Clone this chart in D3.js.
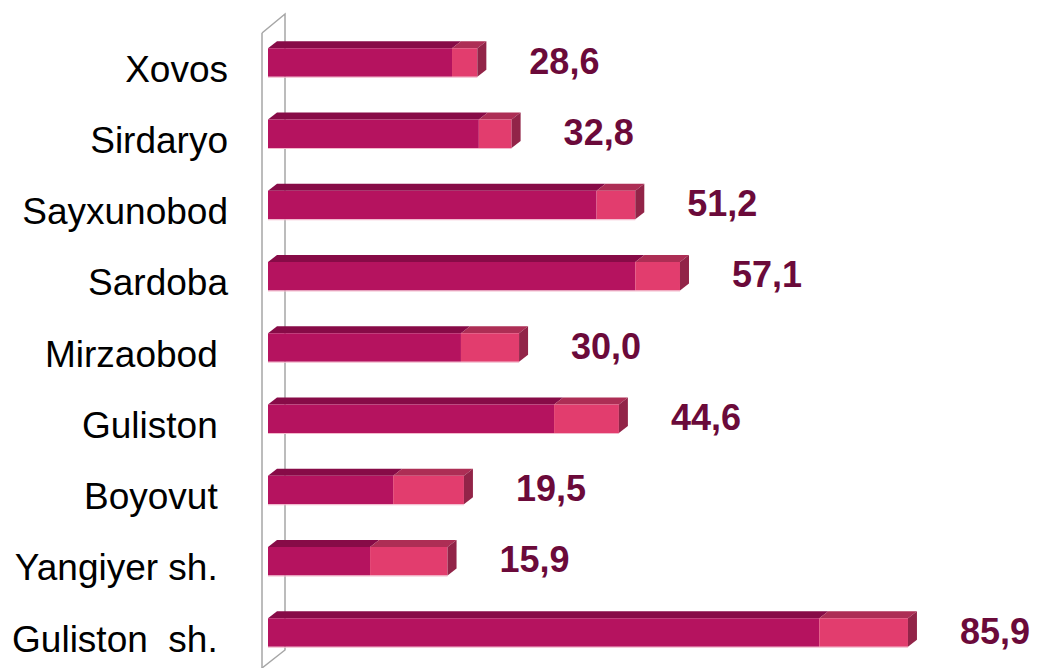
<!DOCTYPE html>
<html>
<head>
<meta charset="utf-8">
<script src="https://cdn.jsdelivr.net/npm/d3@7"></script>
<style>
  body { margin: 0; background: #fff; }
  text { font-family: "Liberation Sans", Arial, sans-serif; }
</style>
</head>
<body>
<svg width="1041" height="668"></svg>
<script>
// categories (top to bottom), trailing spaces as in the original
var categories = ["Xovos", "Sirdaryo", "Sayxunobod", "Sardoba", "Mirzaobod ",
                  "Guliston ", "Boyovut ", "Yangiyer sh. ", "Guliston  sh. "];
// first (dark) segment
var series1 = [24.7, 28.3, 44.1, 49.3, 25.9, 38.4, 16.8, 13.7, 74.0];
// second (light) segment
var series2 = [3.4, 4.4, 5.2, 6.0, 7.8, 8.7, 9.5, 10.4, 11.9];
// labels shown next to bars
var valueLabels = ["28,6", "32,8", "51,2", "57,1", "30,0", "44,6", "19,5", "15,9", "85,9"];

var svg = d3.select("svg");

var x = d3.scaleLinear().domain([0, 90]).range([268, 268 + 90 * 7.45]);
var y = d3.scalePoint().domain(categories).range([62.5, 632.5]);

var barH = 28.5, dx = 9, dy = 7;

var colors = [
  {front: "#b5135f", top: "#870b47", side: "#7a0a40"},
  {front: "#e23d6e", top: "#ad2e55", side: "#922448"}
];

// back wall
var wall = svg.append("g").attr("fill", "none").attr("stroke", "#a6a6a6").attr("stroke-width", 1.5);
wall.append("path").attr("d", "M262,33 L285,14 L285,650 L262,668");
wall.append("line").attr("x1", 262).attr("y1", 33).attr("x2", 262).attr("y2", 668);

var data = categories.map(function(c, i) {
  return {name: c, a: series1[i], b: series2[i], label: valueLabels[i]};
});

var bars = svg.append("g").selectAll("g.bar")
    .data(data)
    .enter().append("g")
    .attr("class", "bar");

function poly(pts) { return pts.map(function(p) { return p.join(","); }).join(" "); }

bars.each(function(d) {
  var g = d3.select(this);
  var yt = y(d.name) - barH / 2, yb = yt + barH;
  var segs = [[0, d.a], [d.a, d.a + d.b]];
  segs.forEach(function(s, k) {
    var x0 = x(s[0]), x1 = x(s[1]);
    // top face
    g.append("polygon")
        .attr("points", poly([[x0, yt], [x0 + dx, yt - dy], [x1 + dx, yt - dy], [x1, yt]]))
        .attr("fill", colors[k].top);
    // front face
    g.append("rect")
        .attr("x", x0).attr("y", yt)
        .attr("width", x1 - x0).attr("height", barH)
        .attr("fill", colors[k].front);
    if (k === 1) {
      // right side face
      g.append("polygon")
          .attr("points", poly([[x1, yt], [x1 + dx, yt - dy], [x1 + dx, yb - dy], [x1, yb]]))
          .attr("fill", colors[k].side);
    }
  });
  // faint highlight at the bottom edge
  g.append("line")
      .attr("x1", x(0)).attr("x2", x(d.a + d.b))
      .attr("y1", yb + 0.5).attr("y2", yb + 0.5)
      .attr("stroke", "#f3b9cc").attr("stroke-width", 1);
});

// category labels
svg.append("g").selectAll("text")
    .data(data)
    .enter().append("text")
    .attr("x", 228)
    .attr("y", function(d) { return y(d.name) + 19; })
    .attr("text-anchor", "end")
    .style("white-space", "pre")
    .style("font-size", "37px")
    .attr("fill", "#000")
    .text(function(d) { return d.name; });

// value labels
svg.append("g").selectAll("text")
    .data(data)
    .enter().append("text")
    .attr("x", function(d) { return x(d.a + d.b) + 52; })
    .attr("y", function(d) { return y(d.name) + 11; })
    .style("font-size", "36px")
    .style("font-weight", "bold")
    .attr("fill", "#6b0a3a")
    .text(function(d) { return d.label; });
</script>
</body>
</html>
